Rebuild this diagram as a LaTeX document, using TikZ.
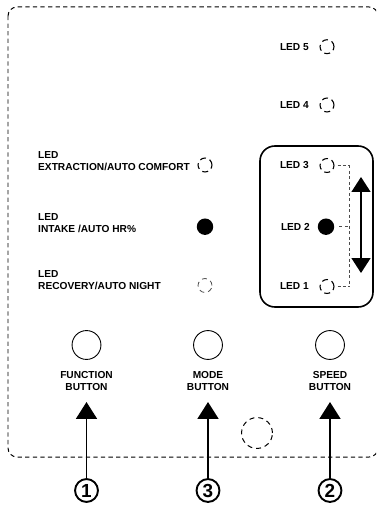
\documentclass[tikz,border=0pt]{standalone}
\usepackage{fontspec}
\setmainfont{Liberation Sans}
\usetikzlibrary{arrows.meta}
\begin{document}
\begin{tikzpicture}[x=1bp,y=-1bp,
  lbl/.style={font=\bfseries\fontsize{10.2}{12}\selectfont, inner sep=0pt},
  ledoff/.style={circle, draw, line width=1.1pt, dash pattern=on 6pt off 4pt, minimum size=14pt, inner sep=0pt},
  ledfaint/.style={circle, draw=black!70, line width=0.8pt, dash pattern=on 5pt off 4pt, minimum size=14pt, inner sep=0pt},
  ledon/.style={circle, fill=black, minimum size=16.5pt, inner sep=0pt},
  btn/.style={circle, draw, line width=0.9pt, minimum size=29pt, inner sep=0pt},
  num/.style={circle, draw, line width=1.9pt, minimum size=23pt, inner sep=0pt, font=\bfseries\fontsize{19}{19}\selectfont},
  guide/.style={draw=black!70, line width=0.7pt, dash pattern=on 3pt off 2.5pt},
  bigarrow/.style={line width=2pt, -{Triangle[width=21pt,length=17pt]}},
  dblarrow/.style={line width=1.5pt, {Triangle[width=19pt,length=15pt]}-{Triangle[width=19pt,length=15pt]}}
]
\useasboundingbox (0,0) rectangle (376,505);
\clip (0,0) rectangle (376,505);
\fill[white] (0,0) rectangle (376,505);

% outer dashed panel
\draw[line width=1pt, dash pattern=on 4.3pt off 3.3pt, rounded corners=9pt] (8,7) rectangle (378,457);

% speed box
\draw[line width=1.6pt, rounded corners=15pt] (260,146) rectangle (373,307);

% right LEDs
\node[lbl, anchor=east] (t5) at (309,46.7) {LED 5};
\node[ledoff] (l5) at (327,46.7) {};
\node[lbl, anchor=east] (t4) at (309,105) {LED 4};
\node[ledoff] (l4) at (327,105) {};
\node[lbl, anchor=east] (t3) at (309,165.5) {LED 3};
\node[ledoff] (l3) at (327,165.5) {};
\node[lbl, anchor=east] (t2) at (310,226.7) {LED 2};
\node[ledon] (l2) at (326,226.7) {};
\node[lbl, anchor=east] (t1) at (309,286.5) {LED 1};
\node[ledoff] (l1) at (327,286.5) {};

\coordinate (v3) at (349,165.5);
\coordinate (v2) at (349,226.7);
\coordinate (v1) at (349,286.5);
\draw[guide] (v3) -- (v1);
\draw[guide] ([xshift=3pt]l3.east) -- (v3);
\draw[guide] ([xshift=5pt]l2.east) -- (v2);
\draw[guide] ([xshift=3pt]l1.east) -- (v1);

\coordinate (da) at (361,177);
\coordinate (db) at (361,273);
\draw[dblarrow] (da) -- (db);

% left LEDs
\node[lbl, anchor=north west, align=left] (te) at (38,151) {LED\\EXTRACTION/AUTO COMFORT};
\node[ledoff] (le) at (205,165) {};
\node[lbl, anchor=north west, align=left] (ti) at (38,213) {LED\\INTAKE /AUTO HR\%};
\node[ledon] (li) at (205,226.7) {};
\node[lbl, anchor=north west, align=left] (tr) at (38,270) {LED\\RECOVERY/AUTO NIGHT};
\node[ledfaint] (lr) at (205,285.5) {};

% buttons
\node[btn] (bf) at (86.5,345) {};
\node[btn] (bm) at (208,345) {};
\node[btn] (bs) at (330,345) {};
\node[lbl, anchor=north, align=center] (tf) at (86.5,371) {FUNCTION\\BUTTON};
\node[lbl, anchor=north, align=center] (tm) at (208,371) {MODE\\BUTTON};
\node[lbl, anchor=north, align=center] (ts) at (330,371) {SPEED\\BUTTON};

% small dashed circle
\node[circle, draw, line width=1pt, dash pattern=on 5pt off 4pt, minimum size=31pt, inner sep=0pt] (hole) at (257,433) {};

% numbers and arrows
\node[num] (n1) at (86.5,490.5) {1};
\node[num] (n3) at (208,490.5) {3};
\node[num] (n2) at (330,490.5) {2};
\coordinate (a1) at (86.5,402);
\coordinate (a3) at (208,402);
\coordinate (a2) at (330,402);
\draw[bigarrow] (n1) -- (a1);
\draw[bigarrow] (n3) -- (a3);
\draw[bigarrow] (n2) -- (a2);
\end{tikzpicture}
\end{document}
